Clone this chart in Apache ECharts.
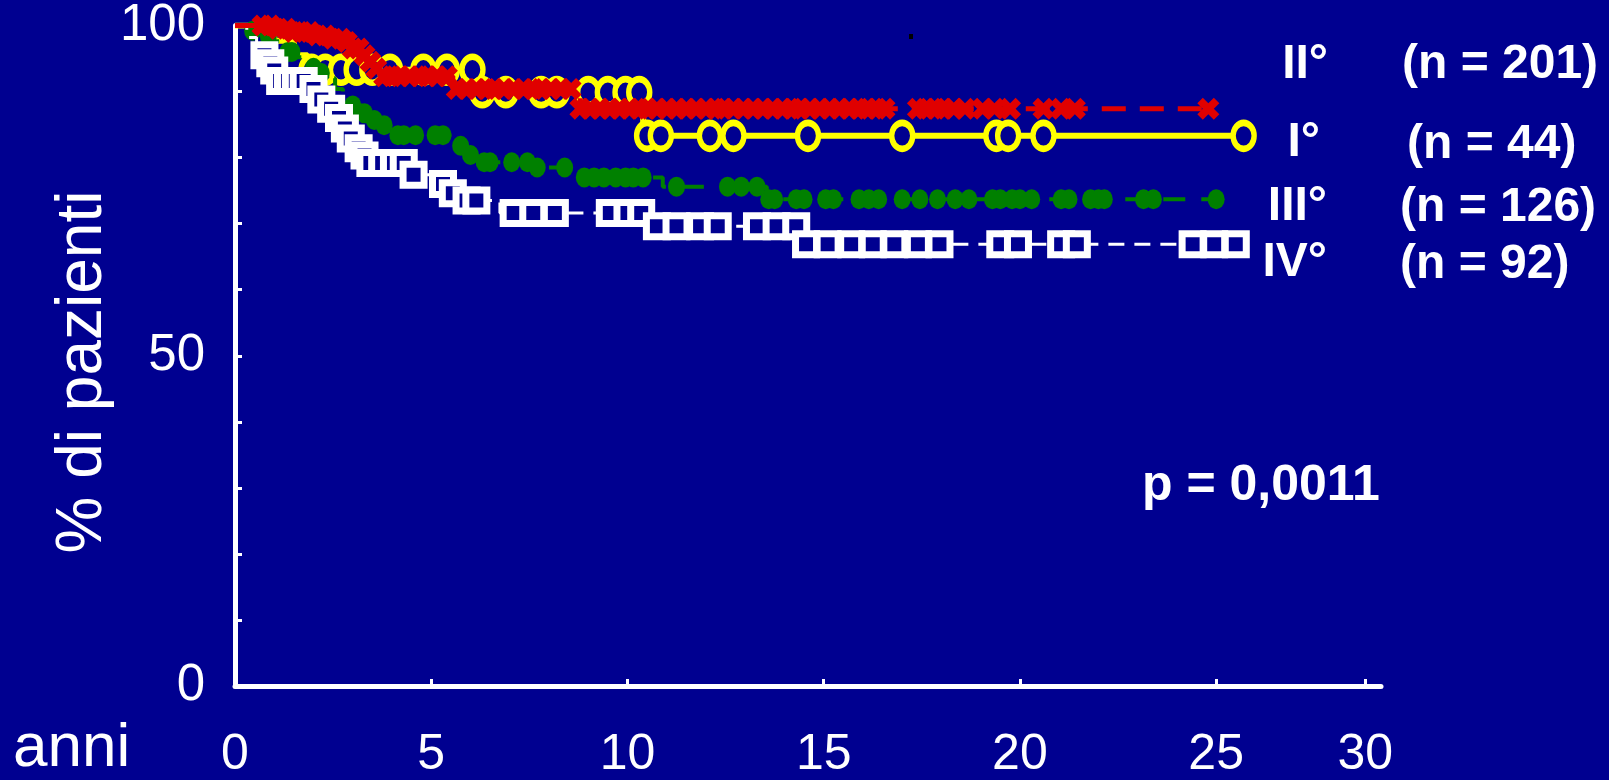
<!DOCTYPE html>
<html>
<head>
<meta charset="utf-8">
<script src="https://cdn.jsdelivr.net/npm/echarts@6/dist/echarts.min.js"></script>
<style>
html, body { margin: 0; padding: 0; background: #000090; }
#main { width: 1609px; height: 780px; }
</style>
</head>
<body>
<div id="main"></div>
<script>
// Kaplan-Meier curves: [anni, % di pazienti] after each drop
var stepsI = [[0, 100], [1.0, 97.7], [1.5, 95.5], [1.85, 93.3], [6.2, 89.9], [10.4, 83.3]];
var endI = 25.7;
var censI = [1.95, 2.3, 2.7, 3.1, 3.5, 3.95, 4.8, 5.4, 6.05, 6.3, 6.9, 7.8, 8.2, 9.0, 9.5, 9.95, 10.3,
    10.5, 10.85, 12.1, 12.7, 14.6, 17.0, 19.4, 19.7, 20.6, 25.7];

var stepsII = [[0, 100], [1.0, 99.5], [1.5, 99.0], [2.0, 98.5], [2.5, 98.0], [2.8, 97.5], [3.0, 96.5],
    [3.2, 95.5], [3.35, 94.5], [3.5, 93.5], [3.7, 92.3], [5.55, 90.4], [8.8, 87.4]];
var endII = 24.8;
var censII = [0.7, 0.9, 1.1, 1.3, 1.5, 1.7, 1.9, 2.1, 2.3, 2.5, 2.7, 2.85, 3.0, 3.15, 3.3, 3.45, 3.6,
    3.8, 4.0, 4.2, 4.45, 4.7, 4.9, 5.15, 5.4, 5.65, 5.9, 6.15, 6.4, 6.6, 6.85, 7.1, 7.35, 7.6, 7.8,
    8.05, 8.3, 8.55, 8.8, 9.05, 9.3, 9.55, 9.8, 10.05, 10.3, 10.5, 10.75, 11.0, 11.25, 11.5, 11.75,
    12.0, 12.25, 12.45, 12.7, 12.95, 13.2, 13.45, 13.7, 13.95, 14.2, 14.4, 14.65, 14.9, 15.15, 15.4,
    15.65, 15.9, 16.1, 16.35, 16.55, 17.4, 17.6, 17.85, 18.05, 18.3, 18.6, 19.05, 19.35, 19.75,
    20.6, 21.05, 21.4, 24.8];

var stepsIII = [[0, 100], [0.35, 99.2], [0.7, 98.4], [0.95, 97.6], [1.15, 96.8], [1.3, 96.0], [1.5, 95.2],
    [1.75, 94.4], [1.95, 93.6], [2.15, 92.8], [2.4, 92.0], [2.55, 90.4], [2.75, 88.8], [2.95, 87.9],
    [3.25, 86.7], [3.5, 85.7], [3.75, 84.9], [4.05, 83.4], [5.7, 81.8], [5.85, 80.4], [6.3, 79.3],
    [7.6, 78.5], [8.85, 77.0], [10.9, 75.6], [13.55, 73.7]];
var endIII = 25.0;
var censIII = [0.45, 0.85, 1.35, 1.45, 2.0, 2.2, 3.0, 3.3, 3.55, 3.8, 4.15, 4.3, 4.6, 5.1, 5.3, 5.75,
    6.0, 6.35, 6.5, 7.05, 7.45, 7.7, 8.4, 8.9, 9.15, 9.4, 9.7, 9.95, 10.15, 10.4, 11.25, 12.55, 12.9,
    13.3, 13.6, 13.75, 14.3, 14.5, 15.05, 15.25, 15.9, 16.15, 16.4, 17.0, 17.45, 17.9, 18.35, 18.7,
    19.3, 19.5, 19.8, 20.0, 20.3, 21.05, 21.25, 21.8, 22.0, 22.15, 23.15, 23.4, 25.0];

var stepsIV = [[0, 100], [0.3, 98.2], [0.55, 96.6], [0.7, 95.5], [0.85, 94.3], [0.95, 93.2], [1.05, 91.6],
    [1.95, 90.4], [2.15, 88.8], [2.4, 87.4], [2.6, 86.0], [2.75, 84.4], [2.9, 82.9], [3.1, 81.4],
    [3.25, 80.3], [3.4, 79.2], [4.45, 77.4], [5.2, 76.0], [5.5, 74.6], [5.8, 73.5], [6.75, 71.6],
    [10.45, 69.6], [14.45, 66.9]];
var endIV = 25.5;
var censIV = [0.75, 0.9, 1.0, 1.15, 1.35, 1.55, 1.75, 2.0, 2.2, 2.45, 2.65, 2.8, 2.95, 3.15, 3.3, 3.45,
    3.75, 4.05, 4.3, 4.55, 5.3, 5.55, 5.9, 6.15, 7.1, 7.6, 8.15, 9.55, 10.0, 10.35, 10.75, 11.25,
    11.85, 12.3, 13.3, 13.8, 14.3, 14.55, 15.1, 15.7, 16.25, 16.8, 17.4, 17.95, 19.5, 19.95, 21.05,
    21.45, 24.4, 24.95, 25.5];

var xTickValues = [0, 5, 10, 15, 20, 25, 28.8];
var xTickLabels = ['0', '5', '10', '15', '20', '25', '30'];
var yTickLabels = [0, 50, 100];

var bg = '#000090';
var font = '"Liberation Sans", Arial, sans-serif';

function lineData(steps, end) {
    var d = steps.slice();
    d.push([end, steps[steps.length - 1][1]]);
    return d;
}
function survAt(steps, t) {
    var s = steps[0][1];
    for (var i = 0; i < steps.length; i++) {
        if (steps[i][0] <= t) s = steps[i][1];
    }
    return s;
}
function censData(steps, cens) {
    return cens.map(function(t) { return [t, survAt(steps, t)]; });
}

// chunky "x" for censored cases of grade II
var xShape = 'path://M0,5 L5,0 L10,5 L15,0 L20,5 L15,10 L20,15 L15,20 L10,15 L5,20 L0,15 L5,10 Z';

var myChart = echarts.init(document.getElementById('main'));
var option = {
    backgroundColor: bg,
    animation: false,
    grid: { left: 235, right: 228, top: 24, bottom: 88 },
    xAxis: {
        type: 'value',
        min: 0,
        max: 29.2,
        axisLine: { lineStyle: { color: '#fff', width: 5 } },
        axisTick: {
            customValues: xTickValues,
            inside: true,
            length: 7,
            lineStyle: { color: '#fff', width: 3 }
        },
        axisLabel: {
            customValues: xTickValues,
            margin: 44,
            color: '#fff',
            fontSize: 50,
            fontFamily: font,
            formatter: function(v) {
                var i = xTickValues.indexOf(v);
                return i < 0 ? '' : xTickLabels[i];
            }
        },
        splitLine: { show: false }
    },
    yAxis: {
        type: 'value',
        min: 0,
        max: 100,
        interval: 10,
        axisLine: { show: true, lineStyle: { color: '#fff', width: 5 } },
        axisTick: {
            show: true,
            inside: true,
            length: 7,
            lineStyle: { color: '#fff', width: 3 }
        },
        axisLabel: {
            margin: 30,
            color: '#fff',
            fontSize: 51,
            fontFamily: font,
            formatter: function(v) {
                return yTickLabels.indexOf(v) < 0 ? '' : String(v);
            }
        },
        splitLine: { show: false }
    },
    series: [
        {
            name: 'I',
            type: 'line',
            step: 'end',
            symbol: 'none',
            data: lineData(stepsI, endI),
            lineStyle: { color: '#ffff00', width: 6 },
            z: 2
        },
        {
            name: 'I cens',
            type: 'scatter',
            symbol: 'circle',
            symbolSize: [21, 26],
            data: censData(stepsI, censI),
            itemStyle: { color: bg, borderColor: '#ffff00', borderWidth: 6, opacity: 1 },
            z: 2
        },
        {
            name: 'III',
            type: 'line',
            step: 'end',
            symbol: 'none',
            data: lineData(stepsIII, endIII),
            lineStyle: { color: '#008000', width: 4, type: [22, 16] },
            z: 3
        },
        {
            name: 'III cens',
            type: 'scatter',
            symbol: 'circle',
            symbolSize: [17, 20],
            data: censData(stepsIII, censIII),
            itemStyle: { color: '#008000', opacity: 1 },
            z: 3
        },
        {
            name: 'IV',
            type: 'line',
            step: 'end',
            symbol: 'none',
            data: lineData(stepsIV, endIV),
            lineStyle: { color: '#ffffff', width: 3, type: [16, 10] },
            z: 4
        },
        {
            name: 'IV cens',
            type: 'scatter',
            symbol: 'rect',
            symbolSize: 21,
            data: censData(stepsIV, censIV),
            itemStyle: { color: bg, borderColor: '#ffffff', borderWidth: 7, opacity: 1 },
            z: 4
        },
        {
            name: 'II',
            type: 'line',
            step: 'end',
            symbol: 'none',
            data: lineData(stepsII, endII),
            lineStyle: { color: '#e00000', width: 5, type: [24, 14] },
            z: 5
        },
        {
            name: 'II cens',
            type: 'scatter',
            symbol: xShape,
            symbolSize: 22,
            data: censData(stepsII, censII),
            itemStyle: { color: '#e00000', opacity: 1 },
            z: 5
        }
    ],
    graphic: [
        { type: 'text', x: 1328, y: 65, style: { text: 'II°', fill: '#fff', font: 'bold 48px ' + font, align: 'right', verticalAlign: 'middle' } },
        { type: 'text', x: 1320, y: 143, style: { text: 'I°', fill: '#fff', font: 'bold 48px ' + font, align: 'right', verticalAlign: 'middle' } },
        { type: 'text', x: 1327, y: 207, style: { text: 'III°', fill: '#fff', font: 'bold 48px ' + font, align: 'right', verticalAlign: 'middle' } },
        { type: 'text', x: 1327, y: 263, style: { text: 'IV°', fill: '#fff', font: 'bold 48px ' + font, align: 'right', verticalAlign: 'middle' } },
        { type: 'text', x: 1402, y: 65, style: { text: '(n = 201)', fill: '#fff', font: 'bold 48px ' + font, align: 'left', verticalAlign: 'middle' } },
        { type: 'text', x: 1407, y: 145, style: { text: '(n = 44)', fill: '#fff', font: 'bold 48px ' + font, align: 'left', verticalAlign: 'middle' } },
        { type: 'text', x: 1400, y: 208, style: { text: '(n = 126)', fill: '#fff', font: 'bold 48px ' + font, align: 'left', verticalAlign: 'middle' } },
        { type: 'text', x: 1400, y: 265, style: { text: '(n = 92)', fill: '#fff', font: 'bold 48px ' + font, align: 'left', verticalAlign: 'middle' } },
        { type: 'text', x: 1142, y: 486, style: { text: 'p = 0,0011', fill: '#fff', font: 'bold 50px ' + font, align: 'left', verticalAlign: 'middle' } },
        { type: 'text', x: 13, y: 749, style: { text: 'anni', fill: '#fff', font: '62px ' + font, align: 'left', verticalAlign: 'middle' } },
        { type: 'text', x: 83, y: 372, rotation: Math.PI / 2, style: { text: '% di pazienti', fill: '#fff', font: '64px ' + font, align: 'center', verticalAlign: 'middle' } },
        { type: 'rect', shape: { x: 909, y: 34, width: 4, height: 5 }, style: { fill: '#000' } }
    ]
};
myChart.setOption(option);
</script>
</body>
</html>
